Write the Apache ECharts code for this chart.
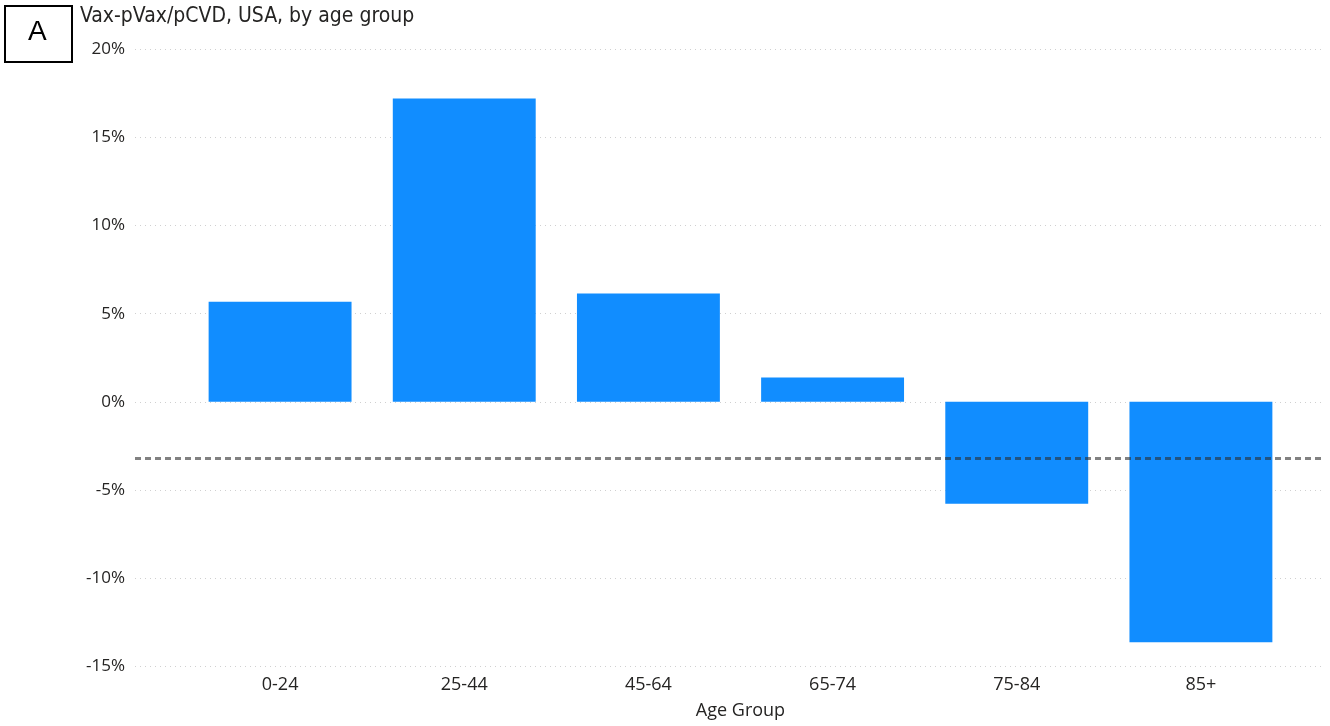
<!DOCTYPE html>
<html>
<head>
<meta charset="utf-8">
<script src="https://cdn.jsdelivr.net/npm/echarts@6/dist/echarts.min.js"></script>
<style>html,body{margin:0;padding:0;background:#fff;}#c{width:1330px;height:726px;}</style>
</head>
<body>
<div id="c"></div>
<script>
const categories = ['0-24', '25-44', '45-64', '65-74', '75-84', '85+'];
const values = [0.0568, 0.1722, 0.0615, 0.0138, -0.0579, -0.1365];
const referenceValue = -0.0322;
const yMin = -0.15, yMax = 0.20, yStep = 0.05;

const chart = echarts.init(document.getElementById('c'));
const labelFont = { fontFamily: 'Open Sans', fontSize: 17, color: '#252423' };
const pct = v => Math.round(v * 100) + '%';

chart.setOption({
  animation: false,
  graphic: [
    { type: 'rect', shape: { x: 5, y: 6, width: 67, height: 56 },
      style: { fill: '#fff', stroke: '#000', lineWidth: 2 } },
    { type: 'text', left: 28, top: 18,
      style: { text: 'A', font: '28px "Liberation Sans"', fill: '#000' } },
    { type: 'text', left: 80, top: 6,
      style: { text: 'Vax-pVax/pCVD, USA, by age group', font: '21px "DejaVu Sans Condensed"', fill: '#252423' } }
  ],
  grid: [
    { left: 135, right: 8, top: 49.5, bottom: 60 },
    { left: 188, right: 37, top: 49.5, bottom: 60 }
  ],
  xAxis: [
    { gridIndex: 0, type: 'value', min: 0, max: 1, show: false },
    { gridIndex: 1, type: 'category', data: categories,
      axisLine: { show: false }, axisTick: { show: false },
      axisLabel: { margin: 10, fontFamily: 'Open Sans', fontSize: 18, color: '#252423' },
      name: 'Age Group', nameLocation: 'middle', nameGap: 36,
      nameTextStyle: { fontFamily: 'Open Sans', fontSize: 18, color: '#252423' } }
  ],
  yAxis: [
    { gridIndex: 0, type: 'value', min: yMin, max: yMax, interval: yStep,
      axisLine: { show: false }, axisTick: { show: false },
      axisLabel: Object.assign({ margin: 10, formatter: pct }, labelFont),
      splitLine: { show: true, lineStyle: { color: '#d0d0d0', type: [1, 4], width: 1 } } },
    { gridIndex: 1, type: 'value', min: yMin, max: yMax, interval: yStep, show: false,
      splitLine: { show: false } }
  ],
  series: [
    { type: 'bar', xAxisIndex: 1, yAxisIndex: 1, data: values,
      barCategoryGap: '22.4%', itemStyle: { color: '#118DFF' }, z: 2 },
    { type: 'line', xAxisIndex: 0, yAxisIndex: 0, z: 5, silent: true,
      symbol: 'none',
      data: [[0, referenceValue], [1, referenceValue]],
      lineStyle: { color: 'rgba(45,45,45,0.6)', type: [6, 4], width: 3 } }
  ]
});
</script>
</body>
</html>
